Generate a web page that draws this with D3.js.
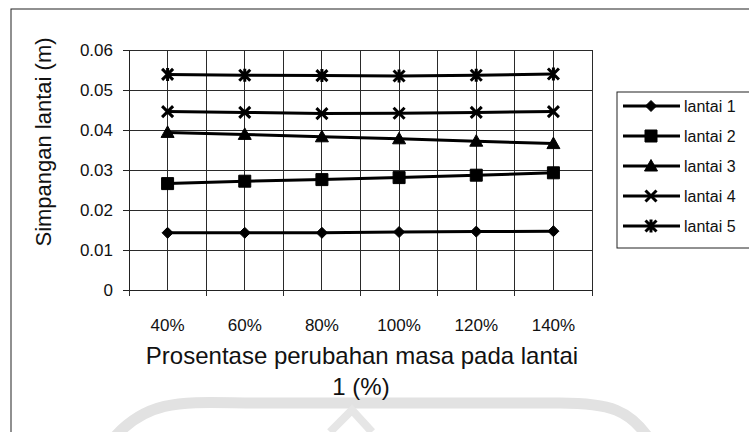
<!DOCTYPE html>
<html>
<head>
<meta charset="utf-8">
<script src="https://cdn.jsdelivr.net/npm/d3@7"></script>
<style>
  html, body { margin: 0; padding: 0; background: #fff; }
  svg { display: block; font-family: "Liberation Sans", Arial, sans-serif; }
</style>
</head>
<body>
<svg id="chart" width="749" height="432"></svg>
<script>
// Categories: percentage change of mass on floor 1
const categories = ["40%", "60%", "80%", "100%", "120%", "140%"];

// Floor displacement (m) per floor
const lantai1 = [0.0143, 0.0143, 0.0143, 0.0145, 0.0146, 0.0147];
const lantai2 = [0.0266, 0.0272, 0.0276, 0.0281, 0.0287, 0.0293];
const lantai3 = [0.0394, 0.0389, 0.0383, 0.0378, 0.0372, 0.0366];
const lantai4 = [0.0446, 0.0444, 0.0441, 0.0442, 0.0444, 0.0446];
const lantai5 = [0.0539, 0.0537, 0.0536, 0.0535, 0.0537, 0.0540];

const seriesNames = ["lantai 1", "lantai 2", "lantai 3", "lantai 4", "lantai 5"];
const seriesMarkers = ["diamond", "square", "triangle", "cross", "asterisk"];
const yTicks = [0, 0.01, 0.02, 0.03, 0.04, 0.05, 0.06];

const series = [lantai1, lantai2, lantai3, lantai4, lantai5].map((values, i) => ({
  name: seriesNames[i], marker: seriesMarkers[i], values
}));

const svg = d3.select("#chart");

// Outer chart frame
svg.append("rect")
  .attr("x", 11).attr("y", 9).attr("width", 760).attr("height", 440)
  .attr("fill", "none").attr("stroke", "#222").attr("stroke-width", 1);

// Faint emblem in the background
const wm = svg.append("g").attr("fill", "none").attr("stroke", "#e2e2e2");
wm.append("path")
  .attr("d", "M 112 440 C 150 395, 190 403, 260 403 L 560 403 C 610 403, 630 410, 650 440")
  .attr("stroke-width", 11);
wm.append("path")
  .attr("d", "M 330 432 L 352 410 L 372 432")
  .attr("stroke-width", 8).attr("stroke", "#e6e6e6");

const plot = { left: 129, right: 592, top: 50, bottom: 290 };

const x = d3.scaleBand().domain(categories).range([plot.left, plot.right]).padding(0);
const y = d3.scaleLinear().domain([0, 0.06]).range([plot.bottom, plot.top]);
const cx = c => x(c) + x.bandwidth() / 2;

// Gridlines
const grid = svg.append("g").attr("stroke", "#2a2a2a").attr("stroke-width", 1).attr("shape-rendering", "crispEdges");
grid.selectAll("line.h").data(yTicks).join("line")
  .attr("x1", plot.left).attr("x2", plot.right)
  .attr("y1", d => y(d)).attr("y2", d => y(d));
const bounds = categories.map(c => x(c)).concat([plot.right]);
grid.selectAll("line.vb").data(bounds).join("line")
  .attr("x1", d => d).attr("x2", d => d)
  .attr("y1", plot.top).attr("y2", plot.bottom + 6);
grid.selectAll("line.vc").data(categories).join("line")
  .attr("x1", d => cx(d)).attr("x2", d => cx(d))
  .attr("y1", plot.top).attr("y2", plot.bottom);

// Y axis
const yAxis = svg.append("g")
  .attr("transform", `translate(${plot.left},0)`)
  .call(d3.axisLeft(y).tickValues(yTicks).tickSize(6).tickPadding(10)
    .tickFormat(d => d === 0 ? "0" : d3.format(".2f")(d)));
yAxis.select(".domain").attr("stroke", "#222");
yAxis.selectAll(".tick line").attr("stroke", "#222");
yAxis.selectAll("text").attr("font-size", 17).attr("fill", "#111")
  .attr("font-family", "Liberation Sans, Arial, sans-serif");

// X axis baseline and labels
const xAxis = svg.append("g")
  .attr("transform", `translate(0,${plot.bottom})`)
  .call(d3.axisBottom(x).tickSize(0).tickPadding(29));
xAxis.select(".domain").attr("stroke", "#222");
xAxis.selectAll("text").attr("font-size", 17).attr("fill", "#111")
  .attr("font-family", "Liberation Sans, Arial, sans-serif");

// Axis titles
svg.append("text")
  .attr("transform", "translate(51,142) rotate(-90)")
  .attr("text-anchor", "middle").attr("font-size", 22).attr("fill", "#111")
  .text("Simpangan lantai (m)");
svg.append("text")
  .attr("x", 362).attr("y", 364).attr("text-anchor", "middle")
  .attr("font-size", 24).attr("fill", "#111")
  .text("Prosentase perubahan masa pada lantai");
svg.append("text")
  .attr("x", 361).attr("y", 395).attr("text-anchor", "middle")
  .attr("font-size", 24).attr("fill", "#111")
  .text("1 (%)");

// Marker shapes, centered on (0,0)
function markerPath(type) {
  switch (type) {
    case "diamond": return "M0,-5.5 L5.5,0 L0,5.5 L-5.5,0 Z";
    case "square": return "M-6,-6 H6 V6 H-6 Z";
    case "triangle": return "M0,-6.5 L6.5,5 L-6.5,5 Z";
    case "cross": return "M-5.5,-5.5 L5.5,5.5 M5.5,-5.5 L-5.5,5.5";
    case "asterisk": return "M-5.5,-5.5 L5.5,5.5 M5.5,-5.5 L-5.5,5.5 M0,-6.5 L0,6.5";
  }
}
function drawMarker(sel, type) {
  const stroked = type === "cross" || type === "asterisk";
  sel.append("path")
    .attr("d", markerPath(type))
    .attr("fill", stroked ? "none" : "#000")
    .attr("stroke", "#000")
    .attr("stroke-width", stroked ? 3 : 1);
}

const line = d3.line().x((d, i) => cx(categories[i])).y(d => y(d));

const seriesG = svg.append("g").selectAll("g").data(series).join("g");
seriesG.append("path")
  .attr("d", d => line(d.values))
  .attr("fill", "none").attr("stroke", "#000").attr("stroke-width", 3);
seriesG.each(function (s) {
  d3.select(this).selectAll("g.pt").data(s.values).join("g")
    .attr("class", "pt")
    .attr("transform", (d, i) => `translate(${cx(categories[i])},${y(d)})`)
    .each(function () { drawMarker(d3.select(this), s.marker); });
});

// Legend
const legend = svg.append("g");
legend.append("rect")
  .attr("x", 617).attr("y", 92).attr("width", 160).attr("height", 156)
  .attr("fill", "#fff").attr("stroke", "#222").attr("stroke-width", 1);
const rowY = d3.scalePoint().domain(seriesNames).range([106, 226]);
const items = legend.selectAll("g.item").data(series).join("g")
  .attr("class", "item")
  .attr("transform", d => `translate(0,${rowY(d.name)})`);
items.append("line")
  .attr("x1", 623).attr("x2", 680).attr("y1", 0).attr("y2", 0)
  .attr("stroke", "#000").attr("stroke-width", 3);
items.append("g").attr("transform", "translate(651,0)")
  .each(function (d) { drawMarker(d3.select(this), d.marker); });
items.append("text")
  .attr("x", 684).attr("y", 6).attr("font-size", 16).attr("fill", "#111")
  .text(d => d.name);
</script>
</body>
</html>
